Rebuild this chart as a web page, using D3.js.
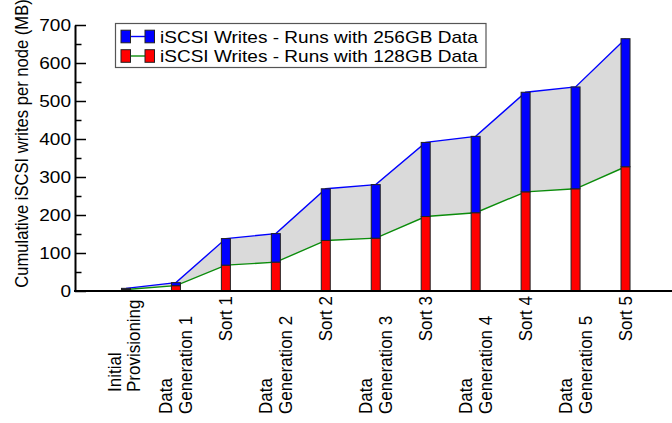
<!DOCTYPE html>
<html>
<head>
<meta charset="utf-8">
<script src="https://cdn.jsdelivr.net/npm/d3@7"></script>
<style>
  body { margin: 0; background: #fff; }
  text { font-family: "Liberation Sans", Arial, Helvetica, sans-serif; fill: #000; }
</style>
</head>
<body>
<div id="chart"></div>
<script>
const WIDTH = 672;
const HEIGHT = 423;
const FONT = 17;
const STRETCH = 1.12; // the reference text is a bit wide

// phases of the run, "\n" splits the label lines
const phases = [
  "Initial\nProvisioning",
  "Data\nGeneration 1",
  "Sort 1",
  "Data\nGeneration 2",
  "Sort 2",
  "Data\nGeneration 3",
  "Sort 3",
  "Data\nGeneration 4",
  "Sort 4",
  "Data\nGeneration 5",
  "Sort 5",
];
// cumulative writes per node (MB)
const writes256 = [7, 22, 138, 151, 269, 280, 391, 407, 523, 537, 664];
const writes128 = [4, 14, 68, 76, 133, 139, 196, 206, 261, 269, 327];
const yTicks = [0, 100, 200, 300, 400, 500, 600, 700];
const yMinorTicks = [50, 150, 250, 350, 450, 550, 650];
const legendLabels = [
  "iSCSI Writes - Runs with 256GB Data",
  "iSCSI Writes - Runs with 128GB Data",
];

const BLUE = "#0000ff";
const RED = "#ff0000";
const GREEN = "#0b8c0b";
const BAND = "#dadada";
const OUTLINE = "#222";

let svg = d3
  .select("#chart")
  .append("svg")
  .attr("width", WIDTH)
  .attr("height", HEIGHT);

let rows = phases.map((p, i) => ({ phase: p, hi: writes256[i], lo: writes128[i] }));

let x = d3.scalePoint().domain(phases).range([101, 650.5]).padding(0.5);
let y = d3.scaleLinear().domain([0, 700]).range([291, 25]);

//gray band between the two runs
let area = d3
  .area()
  .x((d) => x(d.phase))
  .y0((d) => y(d.lo))
  .y1((d) => y(d.hi));
svg.append("path").datum(rows).attr("d", area).attr("fill", BAND);

//lines on top of the band
let hiLine = d3.line().x((d) => x(d.phase)).y((d) => y(d.hi));
let loLine = d3.line().x((d) => x(d.phase)).y((d) => y(d.lo));
svg.append("path").datum(rows).attr("d", hiLine).attr("fill", "none").attr("stroke", BLUE).attr("stroke-width", 1.4);
svg.append("path").datum(rows).attr("d", loLine).attr("fill", "none").attr("stroke", GREEN).attr("stroke-width", 1.4);

//bars: red part from zero, blue part stacked on it
let BAR_W = 9;
let bars = svg.append("g").attr("id", "bars");
bars
  .selectAll("rect.lo")
  .data(rows)
  .enter()
  .append("rect")
  .attr("class", "lo")
  .attr("x", (d) => x(d.phase) - BAR_W / 2)
  .attr("y", (d) => y(d.lo))
  .attr("width", BAR_W)
  .attr("height", (d) => y(0) - y(d.lo))
  .attr("fill", RED)
  .attr("stroke", OUTLINE)
  .attr("stroke-width", 1);
bars
  .selectAll("rect.hi")
  .data(rows)
  .enter()
  .append("rect")
  .attr("class", "hi")
  .attr("x", (d) => x(d.phase) - BAR_W / 2)
  .attr("y", (d) => y(d.hi))
  .attr("width", BAR_W)
  .attr("height", (d) => y(d.lo) - y(d.hi))
  .attr("fill", BLUE)
  .attr("stroke", OUTLINE)
  .attr("stroke-width", 1);

//y axis, ticks pointing inward
let yAxis = svg
  .append("g")
  .attr("transform", "translate(75,0)")
  .call(d3.axisLeft(y).tickValues(yTicks).tickSize(-11).tickSizeOuter(0).tickPadding(4));
yAxis.select(".domain").attr("stroke-width", 2);
yAxis.selectAll(".tick line").attr("stroke-width", 1.5);
yAxis
  .selectAll(".tick text")
  .attr("x", null)
  .attr("transform", `translate(-4,0) scale(${STRETCH},1)`)
  .style("font-size", FONT + "px")
  .style("font-family", '"Liberation Sans", Arial, sans-serif');

let yMinor = svg
  .append("g")
  .attr("transform", "translate(75,0)")
  .call(d3.axisLeft(y).tickValues(yMinorTicks).tickSize(-6.5).tickFormat(""));
yMinor.select(".domain").remove();
yMinor.selectAll(".tick line").attr("stroke-width", 1.5);

//bottom axis line
svg
  .append("line")
  .attr("x1", 74)
  .attr("x2", WIDTH)
  .attr("y1", y(0))
  .attr("y2", y(0))
  .attr("stroke", "#000")
  .attr("stroke-width", 2.2);

//y title
svg
  .append("text")
  .attr("transform", `translate(27.5,143.5) scale(${STRETCH},1) rotate(-90)`)
  .attr("text-anchor", "middle")
  .style("font-size", "16.6px")
  .text("Cumulative iSCSI writes per node (MB)");

//x labels, rotated
let labelGroup = svg.append("g").attr("id", "xlabels");
phases.forEach((p) => {
  let lines = p.split("\n");
  let cx = x(p);
  if (lines.length === 1) {
    labelGroup
      .append("text")
      .attr("transform", `translate(${cx + 6},296) scale(${STRETCH},1) rotate(-90)`)
      .attr("text-anchor", "end")
      .style("font-size", FONT + "px")
      .text(lines[0]);
  } else {
    //multi-line labels are left aligned at the bottom
    let bottom = lines[0] === "Data" ? 414 : 392;
    let offsets = lines[0] === "Data" ? [-3.5, 16] : [-5, 14];
    lines.forEach((line, k) => {
      labelGroup
        .append("text")
        .attr("transform", `translate(${cx + offsets[k]},${bottom}) scale(${STRETCH},1) rotate(-90)`)
        .attr("text-anchor", "start")
        .style("font-size", FONT + "px")
        .text(line);
    });
  }
});

//legend
let legend = svg.append("g").attr("id", "legend");
legend
  .append("rect")
  .attr("x", 115.5)
  .attr("y", 23.5)
  .attr("width", 370.5)
  .attr("height", 44)
  .attr("fill", "#fff")
  .attr("stroke", "#555")
  .attr("stroke-width", 1.2);

let legendItems = [
  { label: legendLabels[0], bar: BLUE, line: BLUE },
  { label: legendLabels[1], bar: RED, line: GREEN },
];
legendItems.forEach((item, i) => {
  let cy = 36.5 + i * 19.5;
  legend
    .append("line")
    .attr("x1", 130)
    .attr("x2", 146)
    .attr("y1", cy)
    .attr("y2", cy)
    .attr("stroke", item.line)
    .attr("stroke-width", 1.4);
  [121, 145].forEach((bx) => {
    legend
      .append("rect")
      .attr("x", bx)
      .attr("y", cy - 6.3)
      .attr("width", 9.5)
      .attr("height", 12.6)
      .attr("fill", item.bar)
      .attr("stroke", OUTLINE)
      .attr("stroke-width", 1);
  });
  legend
    .append("text")
    .attr("transform", `translate(160,${cy + 6}) scale(${STRETCH},1)`)
    .style("font-size", FONT + "px")
    .text(item.label);
});
</script>
</body>
</html>
